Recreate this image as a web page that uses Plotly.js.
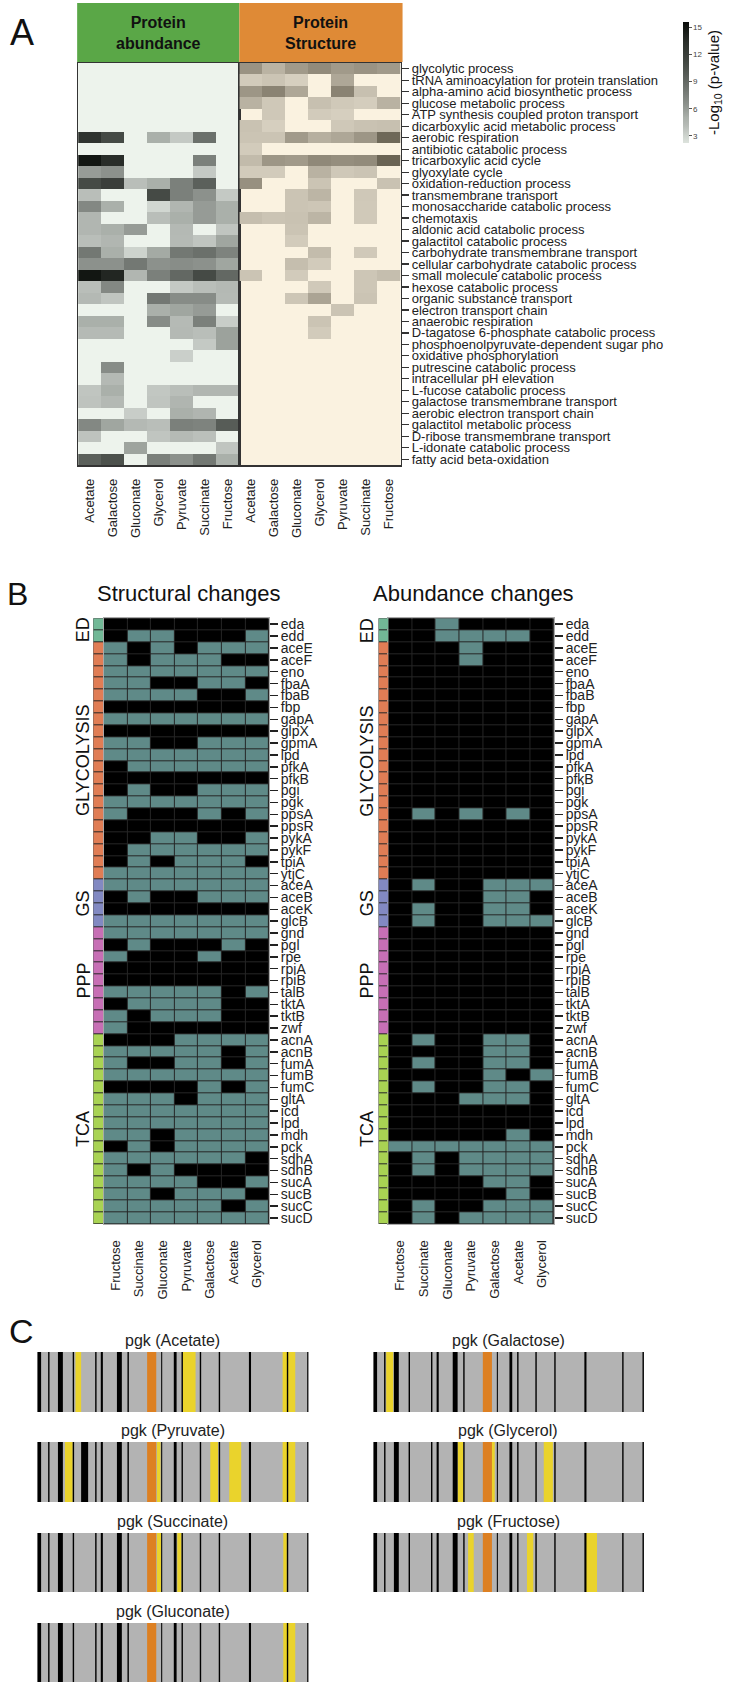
<!DOCTYPE html>
<html>
<head>
<meta charset="utf-8">
<script src="https://cdn.plot.ly/plotly-3.0.1.min.js"></script>
<style>
  html, body { margin: 0; padding: 0; background: #fff; }
  #fig { width: 733px; height: 1687px; }
</style>
</head>
<body>
<div id="fig"></div>
<script>
// ---------- Panel A: GO term enrichment, -log10(p-value) ----------
var carbonA = ["Acetate", "Galactose", "Gluconate", "Glycerol", "Pyruvate", "Succinate", "Fructose"];
var goTerms = [
  "glycolytic process", "tRNA aminoacylation for protein translation", "alpha-amino acid biosynthetic process",
  "glucose metabolic process", "ATP synthesis coupled proton transport", "dicarboxylic acid metabolic process",
  "aerobic respiration", "antibiotic catabolic process", "tricarboxylic acid cycle", "glyoxylate cycle",
  "oxidation-reduction process", "transmembrane transport", "monosaccharide catabolic process", "chemotaxis",
  "aldonic acid catabolic process", "galactitol catabolic process", "carbohydrate transmembrane transport",
  "cellular carbohydrate catabolic process", "small molecule catabolic process", "hexose catabolic process",
  "organic substance transport", "electron transport chain", "anaerobic respiration",
  "D-tagatose 6-phosphate catabolic process", "phosphoenolpyruvate-dependent sugar pho",
  "oxidative phosphorylation", "putrescine catabolic process", "intracellular pH elevation",
  "L-fucose catabolic process", "galactose transmembrane transport", "aerobic electron transport chain",
  "galactitol metabolic process", "D-ribose transmembrane transport", "L-idonate catabolic process",
  "fatty acid beta-oxidation"
];
var NA = null;
// protein abundance (rows = goTerms, cols = carbonA)
var abundanceP = [
  [NA,NA,NA,NA,NA,NA,NA],
  [NA,NA,NA,NA,NA,NA,NA],
  [NA,NA,NA,NA,NA,NA,NA],
  [NA,NA,NA,NA,NA,NA,NA],
  [NA,NA,NA,NA,NA,NA,NA],
  [NA,NA,NA,NA,NA,NA,NA],
  [13,11,NA,5,3.5,8.5,NA],
  [NA,NA,NA,NA,NA,NA,NA],
  [15,13.5,NA,NA,NA,7.5,NA],
  [6,6.5,NA,NA,NA,3.5,NA],
  [11,12,4,5,7.5,9.5,NA],
  [4,NA,NA,11,7.5,6.5,3.5],
  [7,5,NA,2.8,4.5,6,5],
  [4.5,NA,NA,4,5,6,5],
  [4.5,5,6,NA,4.3,NA,3.7],
  [4,4.5,NA,NA,4.2,3.7,5.5],
  [8,5,3,5.3,8,8.5,7.3],
  [6.5,6.5,8,6.5,6.7,6.5,5.5],
  [15,14,4.5,7.5,9,11,9],
  [4,7,NA,NA,3.5,4,4.3],
  [4.3,3.7,NA,8,6.8,6.8,4.2],
  [NA,NA,NA,5,5.5,6,NA],
  [5,5,NA,6.8,4.2,7.5,3.3],
  [4.2,4.2,NA,NA,4.3,4,5.7],
  [NA,NA,NA,NA,NA,3.5,5.7],
  [NA,NA,NA,NA,3.2,NA,NA],
  [NA,6.8,NA,NA,NA,NA,NA],
  [NA,4.3,NA,NA,NA,NA,NA],
  [3.7,5,NA,3.6,4,4.5,4.5],
  [3.8,4.3,NA,3.7,4.6,NA,NA],
  [NA,NA,3.3,NA,5,4.6,NA],
  [7,5.5,4.3,4,7.5,7.3,9.8],
  [3.8,NA,NA,3.7,4.2,3.9,NA],
  [NA,NA,5.6,NA,NA,NA,3.7],
  [9.5,10.5,NA,7.5,6.5,8,5]
];
// protein structure
var structureP = [
  [7,4.5,6.5,7.5,6.5,7,6.5],
  [3.2,3.6,3,NA,5.5,NA,NA],
  [6.8,8,5.5,NA,8,3.8,NA],
  [4.6,3.4,NA,3.8,3.3,3.1,4.6],
  [NA,3.4,NA,3.2,3,NA,NA],
  [3.7,3,NA,NA,3.4,3.7,3.8],
  [3.6,3.6,6.5,4.8,5.5,6.8,10],
  [3.2,NA,NA,NA,NA,NA,NA],
  [4.1,6.8,6.5,7.6,7.3,7.5,10.3],
  [3.2,3.2,NA,4.6,3.4,3.6,NA],
  [7.2,NA,NA,3.6,NA,NA,3.7],
  [NA,NA,3.6,4.4,NA,3.4,NA],
  [NA,NA,3.6,3.5,NA,3.3,NA],
  [3.9,3.6,3.7,4.4,NA,3.3,NA],
  [NA,NA,3.6,NA,NA,NA,NA],
  [NA,NA,3.2,NA,NA,NA,NA],
  [NA,NA,NA,4,NA,3.3,NA],
  [NA,NA,3.9,3.2,NA,NA,NA],
  [3.6,NA,3.2,NA,NA,3.5,3.9],
  [NA,NA,NA,3.3,NA,3.5,NA],
  [NA,NA,3.5,5.7,NA,3.6,NA],
  [NA,NA,NA,NA,3.6,NA,NA],
  [NA,NA,NA,3.6,NA,NA,NA],
  [NA,NA,NA,3.2,NA,NA,NA],
  [NA,NA,NA,NA,NA,NA,NA],
  [NA,NA,NA,NA,NA,NA,NA],
  [NA,NA,NA,NA,NA,NA,NA],
  [NA,NA,NA,NA,NA,NA,NA],
  [NA,NA,NA,NA,NA,NA,NA],
  [NA,NA,NA,NA,NA,NA,NA],
  [NA,NA,NA,NA,NA,NA,NA],
  [NA,NA,NA,NA,NA,NA,NA],
  [NA,NA,NA,NA,NA,NA,NA],
  [NA,NA,NA,NA,NA,NA,NA],
  [NA,NA,NA,NA,NA,NA,NA]
];

// ---------- Panel B: central metabolism genes ----------
var carbonB = ["Fructose", "Succinate", "Gluconate", "Pyruvate", "Galactose", "Acetate", "Glycerol"];
var genes = ["eda","edd","aceE","aceF","eno","fbaA","fbaB","fbp","gapA","glpX","gpmA","lpd","pfkA","pfkB",
  "pgi","pgk","ppsA","ppsR","pykA","pykF","tpiA","ytjC","aceA","aceB","aceK","glcB","gnd","pgl","rpe",
  "rpiA","rpiB","talB","tktA","tktB","zwf","acnA","acnB","fumA","fumB","fumC","gltA","icd","lpd","mdh",
  "pck","sdhA","sdhB","sucA","sucB","sucC","sucD"];
var pathways = ["ED", "GLYCOLYSIS", "GS", "PPP", "TCA"];
var pathwaySizes = [2, 20, 4, 9, 16];
var pathwayColors = ["#72b896", "#e07d55", "#8289c2", "#c76fb5", "#a9d353"];
// 1 = changed, 0 = unchanged
var structural = [
  [0,0,0,0,0,0,0],[0,1,1,0,0,0,1],[1,0,1,0,1,1,1],[1,0,1,1,1,0,0],[1,1,1,1,1,1,1],
  [1,1,0,0,1,1,0],[1,1,1,1,0,0,1],[0,0,0,0,0,0,0],[1,1,1,1,1,1,1],[0,0,0,0,0,0,0],
  [1,1,0,0,1,1,1],[1,1,1,1,1,1,1],[0,1,1,1,1,1,1],[0,0,0,0,0,0,0],[0,1,0,0,1,1,1],
  [1,1,1,1,1,1,1],[1,0,0,0,1,0,1],[0,0,0,0,0,0,0],[0,0,1,1,0,0,1],[0,1,1,1,1,1,1],
  [0,1,0,1,1,1,0],[1,1,1,1,1,1,1],
  [1,1,1,1,1,1,1],[0,1,0,0,1,1,1],[0,0,0,0,0,0,0],[1,1,1,1,1,1,1],
  [1,1,1,1,1,1,1],[0,1,0,0,0,1,0],[1,0,0,0,1,0,0],[0,0,0,0,0,0,0],[0,0,0,0,0,0,0],
  [1,1,1,1,1,0,1],[0,1,1,1,1,0,0],[1,0,1,1,1,0,0],[1,0,0,0,0,0,0],
  [0,0,0,1,1,1,1],[1,1,1,1,1,0,1],[1,0,0,1,1,0,1],[1,1,1,1,1,1,1],[0,0,0,0,1,0,1],
  [1,1,1,0,1,1,1],[1,1,1,1,1,1,1],[1,1,1,1,1,1,1],[1,1,0,1,1,1,1],[0,1,0,1,1,1,1],
  [1,1,1,1,1,1,0],[1,0,1,0,0,0,0],[1,1,1,1,0,0,1],[1,1,0,1,1,1,0],[1,1,1,1,1,0,1],
  [1,1,1,1,1,1,1]
];
var abundance = [
  [0,0,1,0,0,0,0],[0,0,1,1,1,1,0],[0,0,0,1,0,0,0],[0,0,0,1,0,0,0],[0,0,0,0,0,0,0],
  [0,0,0,0,0,0,0],[0,0,0,0,0,0,0],[0,0,0,0,0,0,0],[0,0,0,0,0,0,0],[0,0,0,0,0,0,0],
  [0,0,0,0,0,0,0],[0,0,0,0,0,0,0],[0,0,0,0,0,0,0],[0,0,0,0,0,0,0],[0,0,0,0,0,0,0],
  [0,0,0,0,0,0,0],[0,1,0,1,0,1,0],[0,0,0,0,0,0,0],[0,0,0,0,0,0,0],[0,0,0,0,0,0,0],
  [0,0,0,0,0,0,0],[0,0,0,0,0,0,0],
  [0,1,0,0,1,1,1],[0,0,0,0,1,1,0],[0,1,0,0,1,1,0],[0,1,0,0,1,1,1],
  [0,0,0,0,0,0,0],[0,0,0,0,0,0,0],[0,0,0,0,0,0,0],[0,0,0,0,0,0,0],[0,0,0,0,0,0,0],
  [0,0,0,0,0,0,0],[0,0,0,0,0,0,0],[0,0,0,0,0,0,0],[0,0,0,0,0,0,0],
  [0,1,0,0,1,1,0],[0,0,0,0,1,1,0],[0,1,0,0,1,1,0],[0,0,0,0,1,0,1],[0,1,0,0,1,1,0],
  [0,0,0,1,1,1,0],[0,0,0,0,0,0,0],[0,0,0,0,0,0,0],[0,0,0,0,0,1,0],[1,1,1,1,1,1,1],
  [0,1,0,1,1,1,1],[0,1,0,1,1,1,1],[0,0,0,0,1,1,0],[0,0,0,0,0,1,0],[0,1,0,0,1,1,1],
  [0,1,0,1,1,1,1]
];

// ---------- Panel C: pgk sequence barcodes (residue ranges) ----------
var pgkLength = 387;
var blackSites = [[1,6],[16,18],[30,37],[51,53],[83,85],[91,94],[114,121],[129,131],[177,178.5],
  [195,199],[206,208],[232,234],[259,261],[302,305],[356,358],[385,387]];
var orangeSite = [[157,170]];
var yellowAcetate = [[55,63],[208,226],[350,368]];
var yellowGalactose = [[19,29]];
var yellowPyruvate = [[40,51],[171,176],[247,258],[274,291],[350,368]];
var yellowGlycerol = [[121,129],[169,174],[244,257]];
var yellowSuccinate = [[171,177],[200,206],[351,356]];
var yellowFructose = [[136,144],[220,229],[304,320]];
var yellowGluconate = [[351,368]];
var extraBlackPyruvate = [[63,73]];

// ---------- helpers ----------
var W = 733, H = 1687;
var FONT = 'Arial, "Liberation Sans", Helvetica, sans-serif';
function domX(a, b) { return [a / W, b / W]; }
function domY(top, bottom) { return [1 - bottom / H, 1 - top / H]; }
function range(k) { var r = []; for (var i = 0; i < k; i++) r.push(i); return r; }

var grayScale = [[0,'#dde3dd'],[0.05,'#d0d6d0'],[0.1,'#c3c8c3'],[0.15,'#b5bab5'],[0.21,'#aab0aa'],
  [0.32,'#8c918c'],[0.4,'#7a7f7a'],[0.55,'#5a5f5a'],[0.66,'#444944'],[0.84,'#2a2e2a'],[0.96,'#111511'],[1,'#0a0c0a']];
var beigeScale = [[0,'#e6dfcf'],[0.06,'#d6cfbf'],[0.104,'#cbc4b4'],[0.172,'#bab3a3'],[0.246,'#aea797'],
  [0.343,'#9d9686'],[0.433,'#8a8373'],[0.582,'#6e6858'],[1,'#1e1b14']];
var binScale = [[0,'#000000'],[0.5,'#000000'],[0.5,'#5f8a88'],[1,'#5f8a88']];

var traces = [];

// Panel A heatmaps
traces.push({
  type: 'heatmap', z: abundanceP, xaxis: 'x', yaxis: 'y',
  colorscale: grayScale, zmin: 2.2, zmax: 15.6, hoverongaps: false,
  colorbar: {
    x: 680 / W, xanchor: 'left', y: 1 - 12 / H, yanchor: 'top',
    len: 141 / H, lenmode: 'fraction', thickness: 6, outlinewidth: 0,
    tickvals: [3, 6, 9, 12, 15], ticks: 'outside', ticklen: 3, tickcolor: '#555',
    tickfont: {size: 8, color: '#444'},
    title: {text: '-Log<sub>10</sub> (p-value)', side: 'right', font: {size: 15, color: '#111'}}
  }
});
traces.push({
  type: 'heatmap', z: structureP, xaxis: 'x2', yaxis: 'y2',
  colorscale: beigeScale, zmin: 2.2, zmax: 15.6, showscale: false, hoverongaps: false
});

// Panel B heatmaps + pathway strips
traces.push({type: 'heatmap', z: structural, xaxis: 'x3', yaxis: 'y3', colorscale: binScale,
  zmin: 0, zmax: 1, showscale: false, xgap: 1, ygap: 1});
traces.push({type: 'heatmap', z: abundance, xaxis: 'x4', yaxis: 'y4', colorscale: binScale,
  zmin: 0, zmax: 1, showscale: false, xgap: 1, ygap: 1});

var pathwayOfRow = [];
pathwaySizes.forEach(function (s, g) { for (var i = 0; i < s; i++) pathwayOfRow.push([g]); });
var stripScale = [];
pathwayColors.forEach(function (c, g) {
  stripScale.push([g / pathwayColors.length, c]);
  stripScale.push([(g + 1) / pathwayColors.length, c]);
});
['x12', 'x13'].forEach(function (xa, i) {
  traces.push({type: 'heatmap', z: pathwayOfRow, xaxis: xa, yaxis: i === 0 ? 'y3' : 'y4',
    colorscale: stripScale, zmin: -0.5, zmax: pathwayColors.length - 0.5, showscale: false, ygap: 1});
});

// Panel C barcodes
function segBars(segs, color, xa, ya) {
  return {
    type: 'bar', x: segs.map(function (s) { return (s[0] + s[1]) / 2; }),
    y: segs.map(function () { return 1; }),
    width: segs.map(function (s) { return s[1] - s[0]; }),
    marker: {color: color, line: {width: 0}}, xaxis: xa, yaxis: ya, hoverinfo: 'skip'
  };
}
var panelC = [
  {cond: 'Acetate', yellow: yellowAcetate, extra: [], col: 0, row: 0},
  {cond: 'Galactose', yellow: yellowGalactose, extra: [], col: 1, row: 0},
  {cond: 'Pyruvate', yellow: yellowPyruvate, extra: extraBlackPyruvate, col: 0, row: 1},
  {cond: 'Glycerol', yellow: yellowGlycerol, extra: [], col: 1, row: 1},
  {cond: 'Succinate', yellow: yellowSuccinate, extra: [], col: 0, row: 2},
  {cond: 'Fructose', yellow: yellowFructose, extra: [], col: 1, row: 2},
  {cond: 'Gluconate', yellow: yellowGluconate, extra: [], col: 0, row: 3}
];
var colPx = [[37.3, 312], [377, 651]];
var rowPx = [[1352, 1412], [1442, 1502], [1533, 1592], [1623, 1682]];

var annotations = [];
var shapes = [];

var layout = {
  width: W, height: H, margin: {l: 0, r: 0, t: 0, b: 0},
  paper_bgcolor: '#ffffff', plot_bgcolor: 'rgba(0,0,0,0)', showlegend: false,
  barmode: 'overlay', font: {family: FONT, color: '#222'},
  xaxis: {domain: domX(79, 242), anchor: 'y', range: [-0.5, 6.5], tickvals: range(7), ticktext: carbonA,
    tickangle: -90, ticks: '', ticklabelstandoff: 7, tickfont: {size: 13, color: '#222'},
    showgrid: false, zeroline: false, showline: true, mirror: true, linecolor: '#333', linewidth: 1.5},
  yaxis: {domain: domY(63, 465), anchor: 'x', range: [34.5, -0.5], showticklabels: false, ticks: '',
    showgrid: false, zeroline: false, showline: true, mirror: true, linecolor: '#333', linewidth: 1.5},
  xaxis2: {domain: domX(242, 405), anchor: 'y2', range: [-0.5, 6.5], tickvals: range(7), ticktext: carbonA,
    tickangle: -90, ticks: '', ticklabelstandoff: 7, tickfont: {size: 13, color: '#222'},
    showgrid: false, zeroline: false, showline: true, mirror: true, linecolor: '#333', linewidth: 1.5},
  yaxis2: {domain: domY(63, 465), anchor: 'x2', side: 'right', range: [34.5, -0.5],
    tickvals: range(goTerms.length), ticktext: goTerms, ticks: 'outside', ticklen: 7, tickwidth: 1.2,
    tickcolor: '#333', tickfont: {size: 13, color: '#222'},
    showgrid: false, zeroline: false, showline: true, mirror: true, linecolor: '#333', linewidth: 1.5},
  xaxis3: {domain: domX(105, 272), anchor: 'y3', range: [-0.5, 6.5], tickvals: range(7), ticktext: carbonB,
    tickangle: -90, ticks: '', ticklabelstandoff: 10, tickfont: {size: 13, color: '#222'},
    showgrid: false, zeroline: false, showline: true, mirror: true, linecolor: '#aaa', linewidth: 1},
  yaxis3: {domain: domY(618.3, 1224), anchor: 'x3', side: 'right', range: [50.5, -0.5],
    tickvals: range(genes.length), ticktext: genes, ticks: 'outside', ticklen: 8, tickwidth: 1.5,
    tickcolor: '#222', tickfont: {size: 14, color: '#222'},
    showgrid: false, zeroline: false, showline: true, mirror: true, linecolor: '#aaa', linewidth: 1},
  xaxis4: {domain: domX(392.7, 560), anchor: 'y4', range: [-0.5, 6.5], tickvals: range(7), ticktext: carbonB,
    tickangle: -90, ticks: '', ticklabelstandoff: 10, tickfont: {size: 13, color: '#222'},
    showgrid: false, zeroline: false, showline: true, mirror: true, linecolor: '#aaa', linewidth: 1},
  yaxis4: {domain: domY(618.3, 1224), anchor: 'x4', side: 'right', range: [50.5, -0.5],
    tickvals: range(genes.length), ticktext: genes, ticks: 'outside', ticklen: 8, tickwidth: 1.5,
    tickcolor: '#222', tickfont: {size: 14, color: '#222'},
    showgrid: false, zeroline: false, showline: true, mirror: true, linecolor: '#aaa', linewidth: 1},
  xaxis12: {domain: domX(94.3, 104.3), anchor: 'y3', range: [-0.5, 0.5], visible: false},
  xaxis13: {domain: domX(382.7, 392.7), anchor: 'y4', range: [-0.5, 0.5], visible: false}
};

panelC.forEach(function (p, i) {
  var k = 5 + i, xa = 'x' + k, ya = 'y' + k;
  layout['xaxis' + k] = {domain: domX(colPx[p.col][0], colPx[p.col][1]), anchor: ya,
    range: [0, pgkLength], visible: false};
  layout['yaxis' + k] = {domain: domY(rowPx[p.row][0], rowPx[p.row][1]), anchor: xa,
    range: [0, 1], visible: false};
  traces.push(segBars([[0, pgkLength]], '#b3b3b3', xa, ya));
  traces.push(segBars(p.yellow, '#ead32c', xa, ya));
  traces.push(segBars(orangeSite, '#dd8022', xa, ya));
  traces.push(segBars(blackSites.concat(p.extra), '#000000', xa, ya));
  annotations.push({xref: xa + ' domain', yref: ya + ' domain', x: 0.5, y: 1, yanchor: 'bottom', yshift: 1,
    text: 'pgk (' + p.cond + ')', showarrow: false, font: {size: 16, color: '#222'}});
});

// subplot backgrounds
shapes.push({type: 'rect', xref: 'x domain', yref: 'y domain', x0: 0, x1: 1, y0: 0, y1: 1,
  fillcolor: '#edf3ec', line: {width: 0}, layer: 'below'});
shapes.push({type: 'rect', xref: 'x2 domain', yref: 'y2 domain', x0: 0, x1: 1, y0: 0, y1: 1,
  fillcolor: '#faf2e0', line: {width: 0}, layer: 'below'});
[['x3', 'y3'], ['x4', 'y4'], ['x12', 'y3'], ['x13', 'y4']].forEach(function (r) {
  shapes.push({type: 'rect', xref: r[0] + ' domain', yref: r[1] + ' domain', x0: 0, x1: 1, y0: 0, y1: 1,
    fillcolor: '#262626', line: {width: 0}, layer: 'below'});
});
// Panel A header boxes
shapes.push({type: 'rect', xref: 'paper', yref: 'paper', x0: 78 / W, x1: 242 / W, y0: 1 - 62 / H, y1: 1 - 3 / H,
  fillcolor: '#5aa747', line: {width: 0}});
shapes.push({type: 'rect', xref: 'paper', yref: 'paper', x0: 242 / W, x1: 407 / W, y0: 1 - 62 / H, y1: 1 - 3 / H,
  fillcolor: '#df8a36', line: {width: 0}});
layout.shapes = shapes;

function paperText(text, px, py, size, extra) {
  var a = {xref: 'paper', yref: 'paper', x: px / W, y: 1 - py / H, text: text, showarrow: false,
    font: {size: size, color: '#111'}, xanchor: 'center', yanchor: 'middle'};
  for (var key in extra) a[key] = extra[key];
  return a;
}
annotations.push(paperText('A', 8, 32, 36, {xanchor: 'left'}));
annotations.push(paperText('B', 5, 594, 32, {xanchor: 'left'}));
annotations.push(paperText('C', 7, 1331, 34, {xanchor: 'left'}));
annotations.push(paperText('<b>Protein<br>abundance</b>', 160, 33, 16));
annotations.push(paperText('<b>Protein<br>Structure</b>', 324.5, 33, 16));
annotations.push(paperText('Structural changes', 191, 593, 22));
annotations.push(paperText('Abundance changes', 479, 593, 22));

// pathway labels beside the strips
var start = 0;
pathways.forEach(function (name, g) {
  var mid = start + (pathwaySizes[g] - 1) / 2;
  [['y3', 84], ['y4', 371]].forEach(function (r) {
    annotations.push({xref: 'paper', yref: r[0], x: r[1] / W, y: mid, text: name, textangle: -90,
      showarrow: false, font: {size: 18, color: '#111'}, xanchor: 'center', yanchor: 'middle'});
  });
  start += pathwaySizes[g];
});
layout.annotations = annotations;

Plotly.newPlot('fig', traces, layout, {staticPlot: true});
</script>
</body>
</html>
